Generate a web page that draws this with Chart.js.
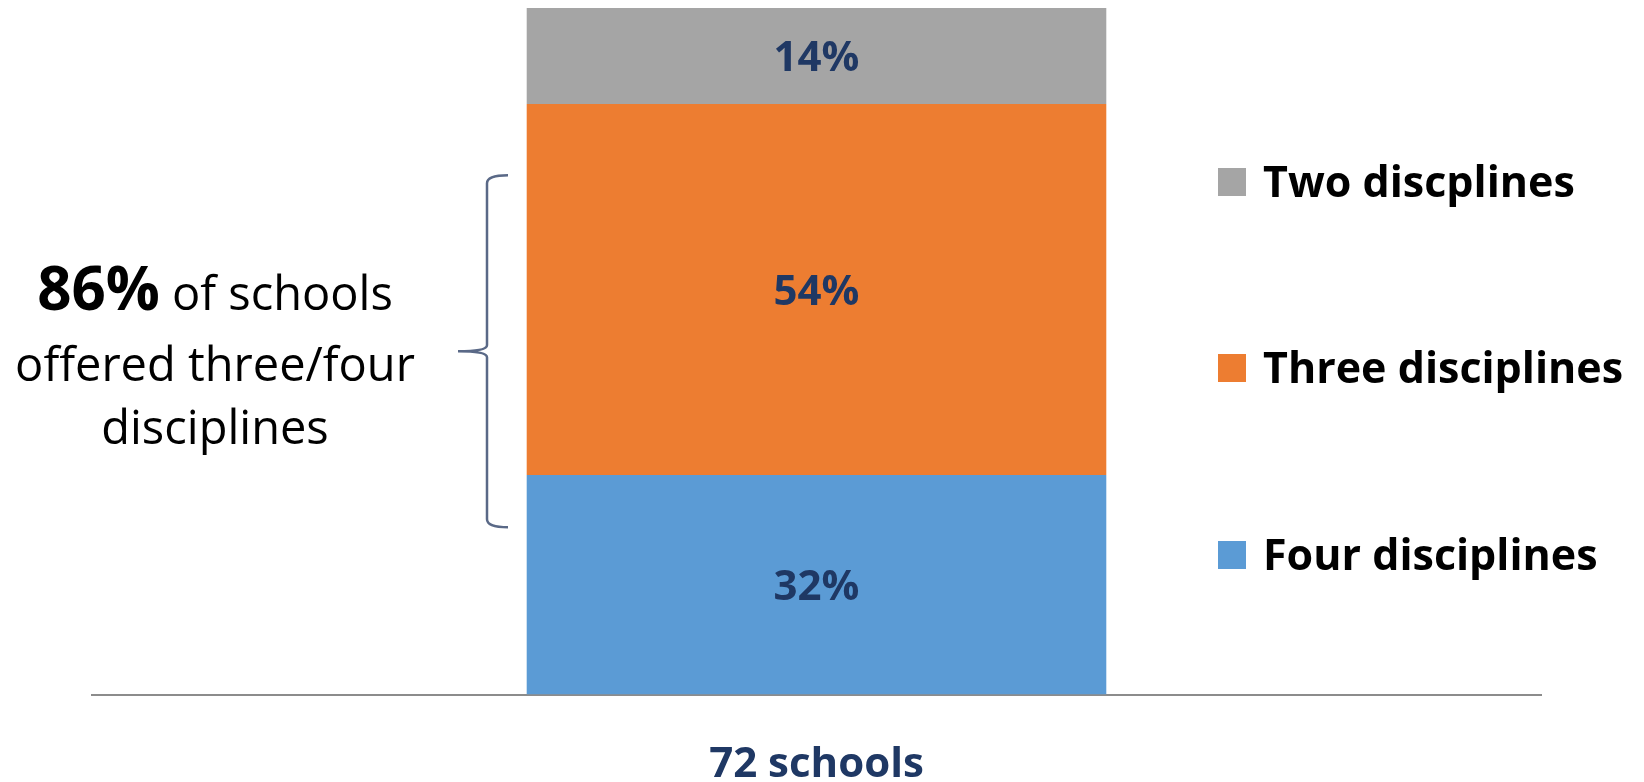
<!DOCTYPE html>
<html><head><meta charset="utf-8">
<script src="https://cdn.jsdelivr.net/npm/chart.js@4/dist/chart.umd.min.js"></script>
<style>html,body{margin:0;padding:0;background:#fff;overflow:hidden}#wrap{width:1644px;height:782px;position:relative}</style>
</head><body><div id="wrap"><canvas id="c" width="1644" height="782"></canvas></div>
<script>
const categories = ['72 schools'];
const seriesNames = ['Four disciplines', 'Three disciplines', 'Two discplines'];
const fourValues = [32];
const threeValues = [54];
const twoValues = [14];
const seriesColors = ['#5B9BD5', '#ED7D31', '#A5A5A5'];
const yTicks = [0, 100];
const noteRest = ['of schools', 'offered three/four', 'disciplines'];

const FONT = '"Open Sans", "DejaVu Sans", sans-serif';
const NAVY = '#1F3864';

const datasets = [fourValues, threeValues, twoValues].map((vals, i) => ({
  label: seriesNames[i],
  data: vals,
  backgroundColor: seriesColors[i],
  borderWidth: 0,
  categoryPercentage: 1,
  barPercentage: 0.4
}));

const labelPlugin = {
  id: 'segLabels',
  afterDatasetsDraw(chart) {
    const ctx = chart.ctx;
    ctx.save();
    const size = 42;
    ctx.font = `bold ${size}px ${FONT}`;
    ctx.fillStyle = NAVY;
    ctx.textAlign = 'center';
    ctx.textBaseline = 'alphabetic';
    chart.data.datasets.forEach((ds, di) => {
      chart.getDatasetMeta(di).data.forEach((el, i) => {
        const p = el.getProps(['x', 'y', 'base'], true);
        ctx.fillText(ds.data[i] + '%', p.x, (p.y + p.base) / 2 + size * 0.714 / 2);
      });
    });
    ctx.restore();
  }
};

const sidePlugin = {
  id: 'sideStuff',
  afterDraw(chart) {
    const ctx = chart.ctx;
    const ca = chart.chartArea;
    ctx.save();
    const order = [2, 1, 0];
    const rowY = [182, 368, 555];
    ctx.font = `bold 43px ${FONT}`;
    ctx.textBaseline = 'alphabetic';
    ctx.textAlign = 'left';
    order.forEach((di, r) => {
      const ds = chart.data.datasets[di];
      ctx.fillStyle = ds.backgroundColor;
      ctx.fillRect(1218, rowY[r] - 14, 28, 28);
      ctx.fillStyle = '#000';
      ctx.fillText(ds.label, 1263, rowY[r] + 43 * 0.714 / 2);
    });
    const midY = (ca.top + ca.bottom) / 2;
    const half = 176;
    const bx = 487;
    ctx.strokeStyle = '#5A6987';
    ctx.lineWidth = 2.5;
    ctx.beginPath();
    ctx.moveTo(508, midY - half);
    ctx.quadraticCurveTo(bx, midY - half, bx, midY - half + 8);
    ctx.lineTo(bx, midY - 6);
    ctx.quadraticCurveTo(bx, midY, 458, midY);
    ctx.quadraticCurveTo(bx, midY, bx, midY + 6);
    ctx.lineTo(bx, midY + half - 8);
    ctx.quadraticCurveTo(bx, midY + half, 508, midY + half);
    ctx.stroke();
    const pct = threeValues[0] + fourValues[0];
    const cx = 215;
    ctx.fillStyle = '#000';
    const bigF = `bold 60px ${FONT}`;
    const regF = `47px ${FONT}`;
    ctx.font = bigF;
    const w1 = ctx.measureText(pct + '%').width;
    ctx.font = regF;
    const w2 = ctx.measureText(' ' + noteRest[0]).width;
    let x0 = cx - (w1 + w2) / 2;
    ctx.textAlign = 'left';
    ctx.font = bigF;
    ctx.fillText(pct + '%', x0, 310);
    ctx.font = regF;
    ctx.fillText(' ' + noteRest[0], x0 + w1, 310);
    ctx.textAlign = 'center';
    ctx.fillText(noteRest[1], cx, 381);
    ctx.fillText(noteRest[2], cx, 444);
    ctx.restore();
  }
};

const bgPlugin = {
  id: 'bg',
  beforeDraw(chart) {
    const ctx = chart.ctx;
    ctx.save();
    ctx.fillStyle = '#fff';
    ctx.fillRect(0, 0, chart.width, chart.height);
    ctx.restore();
  }
};

new Chart(document.getElementById('c'), {
  type: 'bar',
  data: { labels: categories, datasets },
  options: {
    responsive: false,
    animation: false,
    layout: { padding: { left: 92, right: 103, top: 8, bottom: -53 } },
    plugins: { legend: { display: false }, tooltip: { enabled: false } },
    scales: {
      x: {
        stacked: true,
        grid: { display: false, drawTicks: false },
        border: { display: true, color: '#8C8C8C', width: 2 },
        ticks: { color: NAVY, font: { family: FONT, size: 42, weight: 'bold' }, padding: 45 }
      },
      y: {
        stacked: true,
        display: false,
        min: yTicks[0],
        max: yTicks[1]
      }
    }
  },
  plugins: [bgPlugin, labelPlugin, sidePlugin]
});
</script>
</body></html>
